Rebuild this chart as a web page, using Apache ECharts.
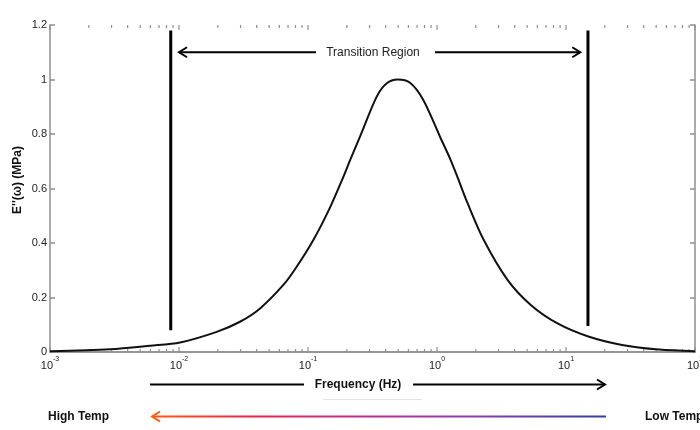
<!DOCTYPE html>
<html>
<head>
<meta charset="utf-8">
<script src="https://cdn.jsdelivr.net/npm/echarts@6/dist/echarts.min.js"></script>
<style>
  html, body { margin: 0; padding: 0; background: #fff; }
  #chart { width: 700px; height: 430px; }
</style>
</head>
<body>
<div id="chart"></div>
<script>
// curve: frequency (Hz) and loss modulus E'' (MPa)
const freqHz = [0.001, 0.00292, 0.00596, 0.0102, 0.0196, 0.0297, 0.0425, 0.0644, 0.0817, 0.110,
  0.148, 0.188, 0.212, 0.253, 0.341, 0.408, 0.496, 0.618, 0.783, 1.055, 1.262, 1.42,
  1.73, 2.31, 3.52, 5.36, 8.67, 14.9, 27.2, 52.6, 100];
const lossModulus = [0.003, 0.01, 0.023, 0.035, 0.074, 0.111, 0.160, 0.246, 0.313, 0.411,
  0.53, 0.643, 0.704, 0.79, 0.937, 0.986, 1.0, 0.988, 0.925, 0.79, 0.71, 0.65,
  0.545, 0.41, 0.265, 0.172, 0.104, 0.057, 0.026, 0.009, 0.003];

// the two vertical markers bounding the transition region
const leftMarker = [[0.00863, 0.08], [0.00863, 1.18]];
const rightMarker = [[14.8, 0.095], [14.8, 1.18]];

// "Transition Region" double arrow
const transitionY = 1.1;
const transitionLeft = [0.0100, 0.1153];   // tip -> end of left shaft
const transitionRight = [0.964, 12.9];     // start of right shaft -> tip
const transitionLabelX = 0.319;

// x ticks: decades (major) and 2..9 in every decade (minor)
const decades = [0.001, 0.01, 0.1, 1, 10, 100];
const xTicks = [];
decades.forEach(d => {
  xTicks.push([d, 5]);
  if (d < 100) for (let k = 2; k <= 9; k++) xTicks.push([d * k, 3]);
});

const axisGray = '#8f8f8f';
const font = 'Liberation Sans, Arial, sans-serif';

let chart = echarts.init(document.getElementById('chart'));

function expLabel(v) {
  const e = Math.round(Math.log10(v));
  return '{b|10}{s|' + e + '}';
}

const xAxisBase = {
  type: 'log',
  logBase: 10,
  min: 0.001,
  max: 100,
  axisLine: { show: true, lineStyle: { color: axisGray, width: 1.5 } },
  axisTick: { show: false },
  splitLine: { show: false },
  minorTick: { show: false }
};

const yAxisBase = {
  type: 'value',
  min: 0,
  max: 1.2,
  interval: 0.2,
  axisLine: { show: true, lineStyle: { color: axisGray, width: 1.5 } },
  axisTick: { show: true, inside: true, length: 5, lineStyle: { color: axisGray, width: 1.5 } },
  splitLine: { show: false }
};

const option = {
  animation: false,
  backgroundColor: '#fff',
  grid: { left: 50, right: 5, top: 25, bottom: 78, outerBoundsMode: 'none' },
  xAxis: [
    Object.assign({}, xAxisBase, {
      position: 'bottom',
      axisLabel: {
        margin: 4,
        formatter: expLabel,
        rich: {
          b: { fontFamily: font, fontSize: 11, color: '#222', lineHeight: 15, verticalAlign: 'bottom' },
          s: { fontFamily: font, fontSize: 7, color: '#222', lineHeight: 15, verticalAlign: 'top' }
        }
      }
    }),
    Object.assign({}, xAxisBase, { position: 'top', axisLabel: { show: false } })
  ],
  yAxis: [
    Object.assign({}, yAxisBase, {
      position: 'left',
      axisLabel: { margin: 3, fontFamily: font, fontSize: 11, color: '#222' }
    }),
    Object.assign({}, yAxisBase, { position: 'right', axisLabel: { show: false } })
  ],
  series: [
    {
      name: "E''",
      type: 'line',
      data: freqHz.map((f, i) => [f, lossModulus[i]]),
      smooth: 0.3,
      showSymbol: false,
      lineStyle: { color: '#111', width: 2 },
      z: 5
    },
    {
      type: 'line',
      data: leftMarker,
      showSymbol: false,
      lineStyle: { color: '#000', width: 3 }
    },
    {
      type: 'line',
      data: rightMarker,
      showSymbol: false,
      lineStyle: { color: '#000', width: 3 }
    },
    {
      // x ticks on bottom and top axes (log axis: majors + 2..9 minors)
      type: 'custom',
      data: xTicks,
      encode: { x: 0 },
      clip: false,
      silent: true,
      renderItem: function (params, api) {
        const len = api.value(1);
        const b = api.coord([api.value(0), 0]);
        const t = api.coord([api.value(0), 1.2]);
        const st = { stroke: axisGray, lineWidth: 1.2 };
        return {
          type: 'group',
          children: [
            { type: 'line', shape: { x1: b[0], y1: b[1], x2: b[0], y2: b[1] - len }, style: st },
            { type: 'line', shape: { x1: t[0], y1: t[1], x2: t[0], y2: t[1] + len }, style: st }
          ]
        };
      }
    },
    {
      // Transition Region arrows and label
      type: 'custom',
      data: [[transitionLabelX, transitionY]],
      encode: { x: 0, y: 1 },
      clip: false,
      silent: true,
      renderItem: function (params, api) {
        const l1 = api.coord([transitionLeft[0], transitionY]);
        const l2 = api.coord([transitionLeft[1], transitionY]);
        const r1 = api.coord([transitionRight[0], transitionY]);
        const r2 = api.coord([transitionRight[1], transitionY]);
        const c = api.coord([transitionLabelX, transitionY]);
        const st = { stroke: '#000', lineWidth: 2, fill: null };
        return {
          type: 'group',
          children: [
            { type: 'line', shape: { x1: l1[0], y1: l1[1], x2: l2[0], y2: l2[1] }, style: st },
            { type: 'polyline', shape: { points: [[l1[0] + 8, l1[1] - 5], [l1[0], l1[1]], [l1[0] + 8, l1[1] + 5]] }, style: st },
            { type: 'line', shape: { x1: r1[0], y1: r1[1], x2: r2[0], y2: r2[1] }, style: st },
            { type: 'polyline', shape: { points: [[r2[0] - 8, r2[1] - 5], [r2[0], r2[1]], [r2[0] - 8, r2[1] + 5]] }, style: st },
            {
              type: 'text',
              x: c[0], y: c[1],
              style: {
                text: 'Transition Region', fontFamily: font, fontSize: 12, fill: '#222',
                align: 'center', verticalAlign: 'middle'
              }
            }
          ]
        };
      }
    }
  ],
  graphic: [
    // y axis title
    {
      type: 'text', x: 18, y: 180, rotation: Math.PI / 2,
      style: { text: "E''(\u03c9) (MPa)", fontFamily: font, fontSize: 12, fontWeight: 'bold', fill: '#111', align: 'center', verticalAlign: 'middle' }
    },
    // Frequency arrow
    { type: 'line', shape: { x1: 150, y1: 384.5, x2: 304, y2: 384.5 }, style: { stroke: '#000', lineWidth: 2 } },
    { type: 'line', shape: { x1: 413, y1: 384.5, x2: 605, y2: 384.5 }, style: { stroke: '#000', lineWidth: 2 } },
    { type: 'polyline', shape: { points: [[597, 379.5], [605, 384.5], [597, 389.5]] }, style: { stroke: '#000', lineWidth: 2, fill: null } },
    {
      type: 'text', x: 358, y: 384.5,
      style: { text: 'Frequency (Hz)', fontFamily: font, fontSize: 12, fontWeight: 'bold', fill: '#111', align: 'center', verticalAlign: 'middle' }
    },
    { type: 'line', shape: { x1: 323, y1: 399.5, x2: 422, y2: 399.5 }, style: { stroke: '#e2e2e2', lineWidth: 1 } },
    // Temperature arrow
    {
      type: 'line', shape: { x1: 153, y1: 416.5, x2: 606, y2: 416.5 },
      style: {
        lineWidth: 2,
        stroke: new echarts.graphic.LinearGradient(0, 0, 1, 0, [
          { offset: 0, color: '#ff5a10' },
          { offset: 0.22, color: '#e8224c' },
          { offset: 0.45, color: '#c02a8c' },
          { offset: 0.7, color: '#8a3eb0' },
          { offset: 1, color: '#2f3ea0' }
        ])
      }
    },
    { type: 'polyline', shape: { points: [[160, 411.5], [152, 416.5], [160, 421.5]] }, style: { stroke: '#ff5a10', lineWidth: 2, fill: null } },
    {
      type: 'text', x: 48, y: 416.5,
      style: { text: 'High Temp', fontFamily: font, fontSize: 12, fontWeight: 'bold', fill: '#111', align: 'left', verticalAlign: 'middle' }
    },
    {
      type: 'text', x: 645, y: 416.5,
      style: { text: 'Low Temp', fontFamily: font, fontSize: 12, fontWeight: 'bold', fill: '#111', align: 'left', verticalAlign: 'middle' }
    }
  ]
};

chart.setOption(option);
</script>
</body>
</html>
